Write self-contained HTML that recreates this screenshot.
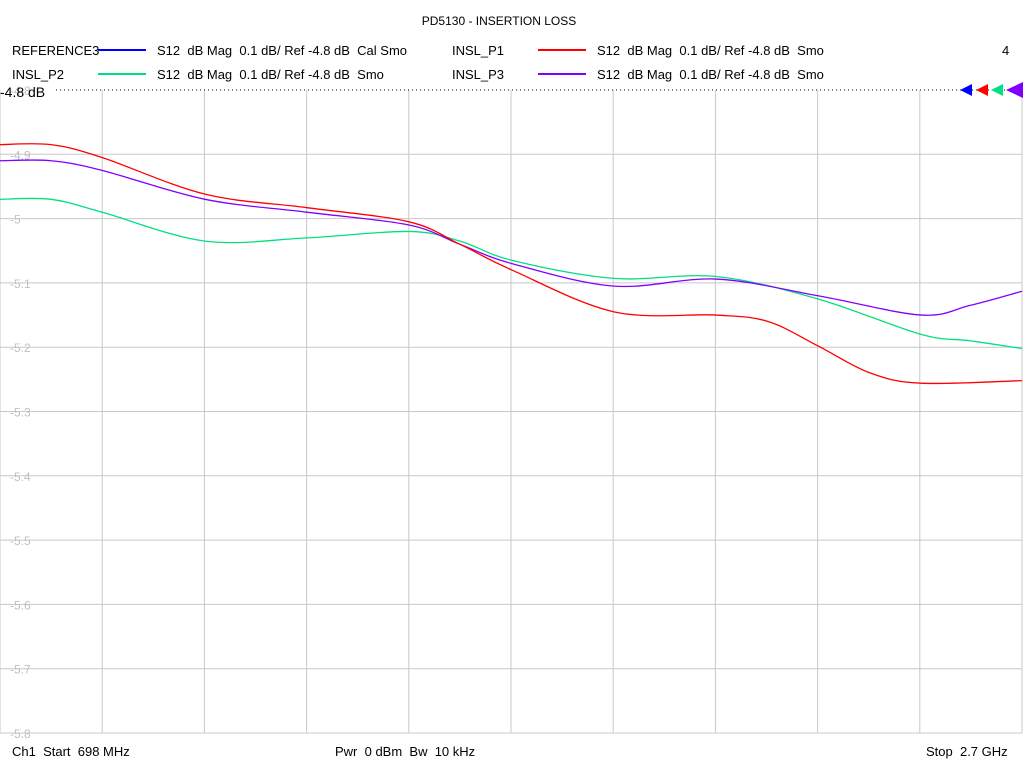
<!DOCTYPE html>
<html><head><meta charset="utf-8"><style>
body{margin:0;background:#fff;font-family:"Liberation Sans",sans-serif;}
svg text{font-family:"Liberation Sans",sans-serif;white-space:pre;}
</style></head><body>
<svg id="c" width="1024" height="768" xml:space="preserve">
<text x="499" y="25" font-size="12" text-anchor="middle">PD5130 - INSERTION LOSS</text>
<g font-size="13">
 <text x="12" y="55">REFERENCE3</text>
 <line x1="98" y1="50" x2="146" y2="50" stroke="#0000ff" stroke-width="2"/>
 <text x="157" y="55">S12  dB Mag  0.1 dB/ Ref -4.8 dB  Cal Smo</text>
 <text x="452" y="55">INSL_P1</text>
 <line x1="538" y1="50" x2="586" y2="50" stroke="#ff0000" stroke-width="2"/>
 <text x="597" y="55">S12  dB Mag  0.1 dB/ Ref -4.8 dB  Smo</text>
 <text x="1002" y="55">4</text>
 <text x="12" y="79">INSL_P2</text>
 <line x1="98" y1="74" x2="146" y2="74" stroke="#00e080" stroke-width="2"/>
 <text x="157" y="79">S12  dB Mag  0.1 dB/ Ref -4.8 dB  Smo</text>
 <text x="452" y="79">INSL_P3</text>
 <line x1="538" y1="74" x2="586" y2="74" stroke="#8000ff" stroke-width="2"/>
 <text x="597" y="79">S12  dB Mag  0.1 dB/ Ref -4.8 dB  Smo</text>
</g>
<g id="grid"></g>
<g id="series"></g>
<text x="0" y="97" font-size="14">-4.8 dB</text>
<line x1="56" y1="90" x2="1022" y2="90" stroke="#000" stroke-dasharray="1,3"/>
<g>
<polygon points="960,90 972,84 972,96" fill="#0000ff"/>
<polygon points="976,90 988,84 988,96" fill="#ff0000"/>
<polygon points="991,90 1003,84 1003,96" fill="#00e080"/>
<polygon points="1006,90 1023,82 1023,98" fill="#8000ff"/>
</g>
<g font-size="13">
<text x="12" y="756">Ch1  Start  698 MHz</text>
<text x="335" y="756">Pwr  0 dBm  Bw  10 kHz</text>
<text x="926" y="756">Stop  2.7 GHz</text>
</g>
</svg>
<script>
const yTicks=[-4.8,-4.9,-5,-5.1,-5.2,-5.3,-5.4,-5.5,-5.6,-5.7,-5.8];
const yTickLabels=["-4.8","-4.9","-5","-5.1","-5.2","-5.3","-5.4","-5.5","-5.6","-5.7","-5.8"];
const p1Freqs=[0,51,102,205,307,409,460,512,614,716,768,818,870,921,1022];
const p1Vals=[-4.885,-4.885,-4.905,-4.962,-4.983,-5.005,-5.04,-5.08,-5.145,-5.15,-5.16,-5.198,-5.24,-5.256,-5.252];
const p3Freqs=[0,51,102,205,307,409,460,512,614,716,818,921,970,1022];
const p3Vals=[-4.91,-4.91,-4.925,-4.97,-4.99,-5.01,-5.04,-5.07,-5.105,-5.094,-5.12,-5.15,-5.135,-5.113];
const p2Freqs=[0,51,102,205,307,409,460,512,614,716,818,921,970,1022];
const p2Vals=[-4.97,-4.97,-4.99,-5.035,-5.03,-5.02,-5.035,-5.065,-5.093,-5.09,-5.125,-5.18,-5.19,-5.202];
const X0=0,X1=1022,Y0=90,Y1=733;
function xs(u){return X0+(u/1022)*(X1-X0);}
function ys(v){return Y0+(-4.8-v)/1.0*(Y1-Y0);}
const NS="http://www.w3.org/2000/svg";
const grid=document.getElementById('grid');
for(let i=0;i<=10;i++){
 const x=X0+i*(X1-X0)/10;
 const l=document.createElementNS(NS,'line');
 l.setAttribute('x1',x);l.setAttribute('x2',x);l.setAttribute('y1',Y0);l.setAttribute('y2',Y1);
 l.setAttribute('stroke','#c8c8c8');
 
 
 grid.appendChild(l);
}
yTicks.forEach((v,i)=>{
 if(i>0){
 const l=document.createElementNS(NS,'line');
 l.setAttribute('x1',X0);l.setAttribute('x2',X1);l.setAttribute('y1',ys(v));l.setAttribute('y2',ys(v));
 l.setAttribute('stroke','#c8c8c8');
 
 
 grid.appendChild(l);}
 const t=document.createElementNS(NS,'text');
 t.setAttribute('x',10);t.setAttribute('y',ys(v)+5);t.setAttribute('font-size','12');t.setAttribute('fill','#c0c0c0');
 
 
 t.textContent=yTickLabels[i];grid.appendChild(t);
});
function path(us,vs){
 const p=us.map((u,i)=>[xs(u),ys(vs[i])]);
 let d='M'+p[0][0]+','+p[0][1];
 for(let i=0;i<p.length-1;i++){
  const a=p[Math.max(0,i-1)],b=p[i],c=p[i+1],e=p[Math.min(p.length-1,i+2)];
  d+=' C'+(b[0]+(c[0]-a[0])/6)+','+(b[1]+(c[1]-a[1])/6)+' '+(c[0]-(e[0]-b[0])/6)+','+(c[1]-(e[1]-b[1])/6)+' '+c[0]+','+c[1];
 }
 return d;
}
const ser=document.getElementById('series');
[[p2Freqs,p2Vals,'#00e080','series-insl-p2'],[p3Freqs,p3Vals,'#8000ff','series-insl-p3'],[p1Freqs,p1Vals,'#ff0000','series-insl-p1']].forEach(s=>{
 const pa=document.createElementNS(NS,'path');
 pa.setAttribute('d',path(s[0],s[1]));pa.setAttribute('fill','none');pa.setAttribute('stroke',s[2]);pa.setAttribute('stroke-width','1.3');
 
 
 ser.appendChild(pa);
});
</script>
</body></html>
